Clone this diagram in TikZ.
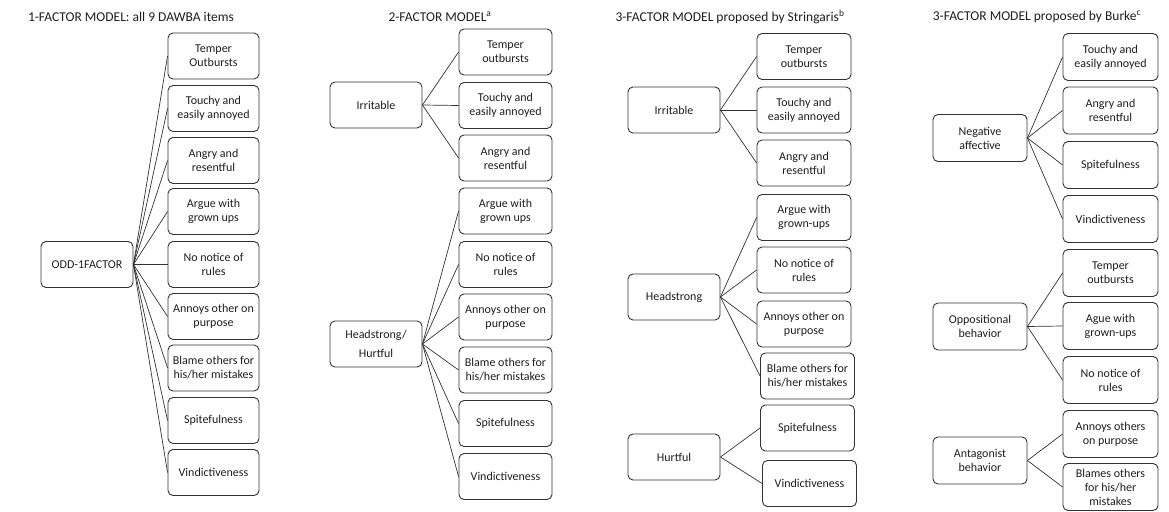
\documentclass[tikz,border=0pt]{standalone}
\usepackage{fontspec}
\setmainfont{Carlito}
\definecolor{ink}{HTML}{333333}
\definecolor{txt}{HTML}{1E1E1E}
\tikzset{
  box/.style={draw=ink, line width=0.9pt, rounded corners=5pt, inner sep=1pt, align=center,
              text=txt, font=\fontsize{12}{14}\selectfont},
  item/.style={box, minimum width=#1, minimum height=46pt},
  item/.default=93pt,
  factor/.style={box, minimum width=92pt, minimum height=46pt},
  link/.style={draw=ink, line width=0.7pt},
  ttl/.style={text=txt, font=\fontsize{13.5}{15}\selectfont, inner sep=0pt}
}
\begin{document}
\begin{tikzpicture}[x=1pt,y=-1pt]
\useasboundingbox (0,0) rectangle (1169,511);
% ---------- Panel 1 ----------
\node[ttl] (t1) at (131,17) {1-FACTOR MODEL: all 9 DAWBA items};
\node[factor] (f1) at (87,264.5) {ODD-1FACTOR};
\node[item=91pt] (a1) at (213.5,56) {Temper\\Outbursts};
\node[item=91pt] (a2) at (213.5,108.5) {Touchy and\\easily annoyed};
\node[item=91pt] (a3) at (213.5,160.5) {Angry and\\resentful};
\node[item=91pt] (a4) at (213.5,211.5) {Argue with\\grown ups};
\node[item=91pt] (a5) at (213.5,264.5) {No notice of\\rules};
\node[item=91pt] (a6) at (213.5,316.5) {Annoys other on\\purpose};
\node[item=91pt] (a7) at (213.5,368) {Blame others for\\his/her mistakes};
\node[item=91pt] (a8) at (213.5,420.5) {Spitefulness};
\node[item=91pt] (a9) at (213.5,472.5) {Vindictiveness};
\foreach \i in {1,...,9} \draw[link] (f1.east) -- (a\i.west);
% ---------- Panel 2 ----------
\node[ttl] (t2) at (440,17) {2-FACTOR MODEL\textsuperscript{a}};
\node[factor] (f2a) at (376,105) {Irritable};
\node[factor, font=\fontsize{12}{19}\selectfont] (f2b) at (376,344) {Headstrong/\\Hurtful};
\node[item] (b1) at (505.5,52) {Temper\\outbursts};
\node[item] (b2) at (505.5,105.5) {Touchy and\\easily annoyed};
\node[item] (b3) at (505.5,158) {Angry and\\resentful};
\node[item] (b4) at (505.5,211) {Argue with\\grown ups};
\node[item] (b5) at (505.5,264.5) {No notice of\\rules};
\node[item] (b6) at (505.5,317) {Annoys other on\\purpose};
\node[item] (b7) at (505.5,370) {Blame others for\\his/her mistakes};
\node[item] (b8) at (505.5,423.5) {Spitefulness};
\node[item] (b9) at (505.5,476.5) {Vindictiveness};
\foreach \i in {1,2,3} \draw[link] (f2a.east) -- (b\i.west);
\foreach \i in {4,...,9} \draw[link] (f2b.east) -- (b\i.west);
% ---------- Panel 3 ----------
\node[ttl] (t3) at (730,17) {3-FACTOR MODEL proposed by Stringaris\textsuperscript{b}};
\node[factor] (f3a) at (674,110) {Irritable};
\node[factor] (f3b) at (674,297) {Headstrong};
\node[factor] (f3c) at (674,457) {Hurtful};
\node[item=94pt] (c1) at (804,56.5) {Temper\\outbursts};
\node[item=94pt] (c2) at (804,110) {Touchy and\\easily annoyed};
\node[item=94pt] (c3) at (804,163) {Angry and\\resentful};
\node[item=94pt] (c4) at (804,217.5) {Argue with\\grown-ups};
\node[item=94pt] (c5) at (804,270) {No notice of\\rules};
\node[item=94pt] (c6) at (804,324) {Annoys other on\\purpose};
\node[item=94pt] (c7) at (807.5,376) {Blame others for\\his/her mistakes};
\node[item=94pt] (c8) at (807.5,428) {Spitefulness};
\node[item=94pt] (c9) at (809.5,483.5) {Vindictiveness};
\foreach \i in {1,2,3} \draw[link] (f3a.east) -- (c\i.west);
\foreach \i in {4,...,7} \draw[link] (f3b.east) -- (c\i.west);
\foreach \i in {8,9} \draw[link] (f3c.east) -- (c\i.west);
% ---------- Panel 4 ----------
\node[ttl] (t4) at (1037,17) {3-FACTOR MODEL proposed by Burke\textsuperscript{c}};
\node[factor, minimum width=94pt, minimum height=47pt] (f4a) at (980,138) {Negative\\affective};
\node[factor, minimum width=94pt, minimum height=47pt] (f4b) at (980,326.5) {Oppositional\\behavior};
\node[factor, minimum width=94pt, minimum height=47pt] (f4c) at (980,460.5) {Antagonist\\behavior};
\node[item=95pt, minimum height=47pt] (d1) at (1110.5,57) {Touchy and\\easily annoyed};
\node[item=95pt, minimum height=47pt] (d2) at (1110.5,110.5) {Angry and\\resentful};
\node[item=95pt, minimum height=47pt] (d3) at (1110.5,165) {Spitefulness};
\node[item=95pt, minimum height=47pt] (d4) at (1110.5,219) {Vindictiveness};
\node[item=95pt, minimum height=47pt] (d5) at (1110.5,273) {Temper\\outbursts};
\node[item=95pt, minimum height=47pt] (d6) at (1110.5,326) {Ague with\\grown-ups};
\node[item=95pt, minimum height=47pt] (d7) at (1110.5,380) {No notice of\\rules};
\node[item=95pt, minimum height=47pt] (d8) at (1110.5,434) {Annoys others\\on purpose};
\node[item=95pt, minimum height=47pt] (d9) at (1110.5,487) {Blames others\\for his/her\\mistakes};
\foreach \i in {1,...,4} \draw[link] (f4a.east) -- (d\i.west);
\foreach \i in {5,6,7} \draw[link] (f4b.east) -- (d\i.west);
\foreach \i in {8,9} \draw[link] (f4c.east) -- (d\i.west);
\end{tikzpicture}
\end{document}
